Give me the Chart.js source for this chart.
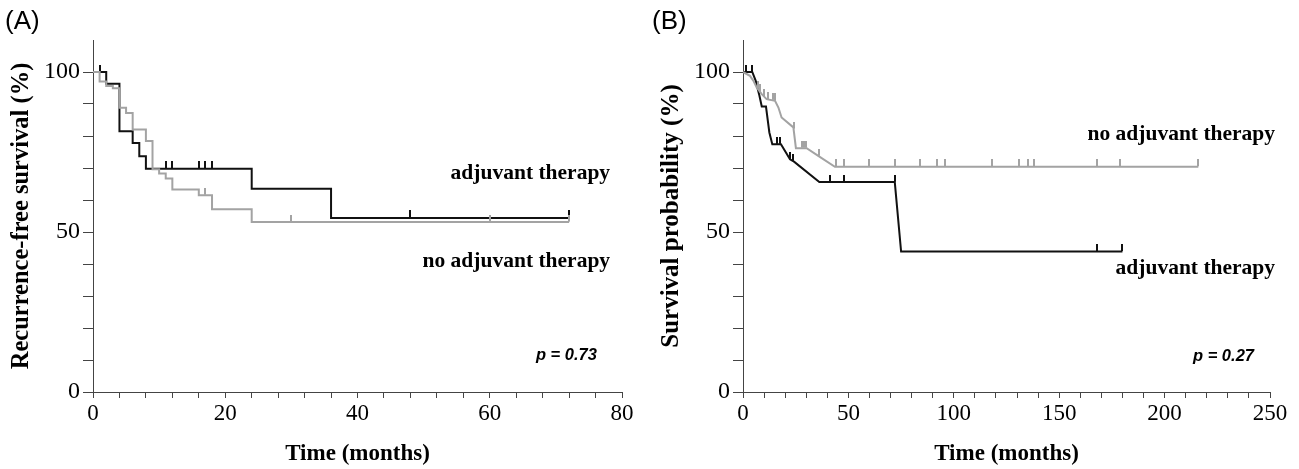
<!DOCTYPE html>
<html>
<head>
<meta charset="utf-8">
<script src="https://cdn.jsdelivr.net/npm/chart.js@4.4.1/dist/chart.umd.min.js"></script>
<style>
  html, body { margin: 0; padding: 0; background: #fff; }
  #wrap { position: relative; width: 1299px; height: 469px; }
  .panel { position: absolute; top: 0; height: 469px; }
  #panelA { left: 0; width: 650px; }
  #panelB { left: 650px; width: 649px; }
</style>
</head>
<body>
<div id="wrap">
  <div class="panel" id="panelA"><canvas id="chartA"></canvas></div>
  <div class="panel" id="panelB"><canvas id="chartB"></canvas></div>
</div>
<script>
// --- Datos ---

// (A) Supervivencia libre de recurrencia (curvas escalonadas)
const aAdjTime = [0, 2, 4, 6, 7, 8, 24, 36, 72];
const aAdjSurv = [100, 96.3, 81.5, 77.8, 73.7, 69.8, 63.5, 54.4, 54.4];
const aAdjCensor = [1, 11, 12, 16, 17, 18, 48, 72];

const aNoTime = [0, 1, 2, 3, 4, 5, 6, 8, 9, 10, 11, 12, 16, 18, 24, 72];
const aNoSurv = [100, 97.0, 95.6, 94.9, 88.8, 87.2, 82.0, 78.4, 69.6, 68.3, 66.7, 63.3, 61.5, 57.1, 53.1, 53.1];
const aNoCensor = [17, 30, 60, 72];

// (B) Probabilidad de supervivencia (polilíneas)
const bAdjTime = [0, 4.4, 6, 7.8, 8.9, 10.9, 12.5, 13.9, 18, 22.3, 24.2, 36.2, 72, 75, 180];
const bAdjSurv = [100, 100, 97.3, 92.6, 89.2, 89.2, 81.1, 77.4, 77.4, 72.7, 72.0, 65.6, 65.6, 43.9, 43.9];
const bAdjCensor = [1.6, 4.3, 16.3, 17.6, 22.3, 23.9, 41.3, 47.9, 72, 168, 180];

const bNoTime = [0, 3.3, 4.9, 6.5, 8.9, 11.2, 15.2, 16.8, 18.3, 23.9, 25.1, 30.2, 35.7, 43.6, 216];
const bNoSurv = [100, 98.8, 97.3, 95.2, 93.1, 91.5, 91.0, 88.9, 85.8, 82.7, 76.2, 76.2, 73.8, 70.4, 70.4];
const bNoCensor = [7, 8, 10, 12, 14, 15, 24, 28, 29, 30, 36, 44, 48, 60, 72, 84, 92, 96, 118, 131, 135, 138, 168, 179, 216];

// Ejes
const yTickLabels = [0, 50, 100];
const aXTickLabels = [0, 20, 40, 60, 80];
const bXTickLabels = [0, 50, 100, 150, 200, 250];

const BLACK = '#111111';
const GRAY = '#a3a3a3';
const AXIS = '#444444';
const SERIF = "'Liberation Serif', 'Times New Roman', serif";

// Nivel de la curva en el tiempo t (escalonado o lineal)
function levelAt(times, surv, t, stepped) {
  for (let i = times.length - 1; i >= 0; i--) {
    if (times[i] <= t) {
      if (stepped || i === times.length - 1) return surv[i];
      const f = (t - times[i]) / (times[i + 1] - times[i]);
      return surv[i] + f * (surv[i + 1] - surv[i]);
    }
  }
  return surv[0];
}

function toPoints(times, surv) {
  return times.map((t, i) => ({ x: t, y: surv[i] }));
}

function censorPoints(censor, times, surv, stepped) {
  return censor.map(t => ({ x: t, y: levelAt(times, surv, t, stepped) }));
}

// Marca de censura: trazo vertical hacia arriba
function censorMark(color) {
  const c = document.createElement('canvas');
  c.width = 2;
  c.height = 15;
  const g = c.getContext('2d');
  g.fillStyle = color;
  g.fillRect(0, 0, 2, 7);
  return c;
}

// Textos sobre el gráfico (etiquetas de grupos, p, letra del panel)
const textPlugin = {
  id: 'textos',
  afterDraw(chart) {
    const { ctx, scales } = chart;
    const notes = chart.options.plugins.textos.items;
    ctx.save();
    notes.forEach(n => {
      ctx.font = n.font;
      ctx.fillStyle = '#000';
      ctx.textAlign = n.align || 'right';
      ctx.textBaseline = 'middle';
      const x = n.px !== undefined ? n.px : scales.x.getPixelForValue(n.x);
      const y = n.py !== undefined ? n.py : scales.y.getPixelForValue(n.y);
      ctx.fillText(n.text, x, y);
    });
    ctx.restore();
  }
};

function makePanel(id, opts) {
  const lineDs = (label, pts, color, stepped) => ({
    type: 'line', label, data: pts, borderColor: color, borderWidth: 2,
    pointRadius: 0, stepped: stepped ? 'before' : false, tension: 0, fill: false
  });
  const censorDs = (label, pts, color) => ({
    type: 'scatter', label, data: pts, pointStyle: censorMark(color),
    pointRadius: 5, borderWidth: 0, backgroundColor: color
  });

  return new Chart(document.getElementById(id), {
    type: 'line',
    data: {
      datasets: [
        lineDs('no adjuvant therapy', toPoints(opts.noTime, opts.noSurv), GRAY, opts.stepped),
        censorDs('no adjuvant censored', censorPoints(opts.noCensor, opts.noTime, opts.noSurv, opts.stepped), GRAY),
        lineDs('adjuvant therapy', toPoints(opts.adjTime, opts.adjSurv), BLACK, opts.stepped),
        censorDs('adjuvant censored', censorPoints(opts.adjCensor, opts.adjTime, opts.adjSurv, opts.stepped), BLACK)
      ]
    },
    options: {
      responsive: true,
      maintainAspectRatio: false,
      animation: false,
      layout: { padding: { left: 0, right: opts.padRight, top: 40, bottom: 0 } },
      plugins: {
        legend: { display: false },
        tooltip: { enabled: false },
        textos: { items: opts.notes }
      },
      scales: {
        x: {
          type: 'linear', min: 0, max: opts.xMax,
          afterFit: s => { s.height = 77; },
          afterBuildTicks: s => {
            s.ticks = [];
            for (let v = 0; v <= opts.xMax; v += opts.xStep) s.ticks.push({ value: v });
          },
          ticks: {
            autoSkip: false, maxRotation: 0, padding: 2, color: '#000',
            font: { family: SERIF, size: 23 },
            callback: v => opts.xLabels.includes(v) ? v : ''
          },
          grid: { drawOnChartArea: false, drawTicks: true, tickLength: 6, color: AXIS, tickColor: AXIS },
          border: { color: AXIS, width: 1 },
          title: {
            display: true, text: 'Time (months)', color: '#000',
            font: { family: SERIF, size: 23, weight: 'bold', lineHeight: 1.2 },
            padding: { top: 0, bottom: 1 }
          }
        },
        y: {
          type: 'linear', min: 0, max: 110,
          afterFit: s => { s.width = 93; },
          afterBuildTicks: s => {
            s.ticks = [];
            for (let v = 0; v <= 110; v += 10) s.ticks.push({ value: v });
          },
          ticks: {
            autoSkip: false, padding: 3, color: '#000',
            font: { family: SERIF, size: 24 },
            callback: v => yTickLabels.includes(v) ? v : ''
          },
          grid: {
            drawOnChartArea: false, drawTicks: true, tickLength: 10, color: AXIS,
            tickColor: c => (c.tick && c.tick.value === 110) ? 'rgba(0,0,0,0)' : AXIS
          },
          border: { color: AXIS, width: 1 },
          title: {
            display: true, text: opts.yTitle, color: '#000',
            font: { family: SERIF, size: opts.yTitleSize, weight: 'bold', lineHeight: 1.2 },
            padding: { top: 7, bottom: 0 }
          }
        }
      }
    },
    plugins: [textPlugin]
  });
}

const boldSerif = "bold 21.5px " + SERIF;
const pFont = "italic bold 16.5px 'Liberation Sans', Arial, sans-serif";
const letterFont = "26px 'Liberation Sans', Arial, sans-serif";

makePanel('chartA', {
  stepped: true, xMax: 80, xStep: 4, xLabels: aXTickLabels, padRight: 28,
  yTitle: 'Recurrence-free survival (%)', yTitleSize: 24.5,
  adjTime: aAdjTime, adjSurv: aAdjSurv, adjCensor: aAdjCensor,
  noTime: aNoTime, noSurv: aNoSurv, noCensor: aNoCensor,
  notes: [
    { text: '(A)', font: letterFont, align: 'left', px: 5, py: 22 },
    { text: 'adjuvant therapy', font: boldSerif, x: 78.2, y: 68.3 },
    { text: 'no adjuvant therapy', font: boldSerif, x: 78.2, y: 40.8 },
    { text: 'p = 0.73', font: pFont, x: 76.2, y: 11.3 }
  ]
});

makePanel('chartB', {
  stepped: false, xMax: 250, xStep: 10, xLabels: bXTickLabels, padRight: 29,
  yTitle: 'Survival probability (%)', yTitleSize: 25,
  adjTime: bAdjTime, adjSurv: bAdjSurv, adjCensor: bAdjCensor,
  noTime: bNoTime, noSurv: bNoSurv, noCensor: bNoCensor,
  notes: [
    { text: '(B)', font: letterFont, align: 'left', px: 2, py: 22 },
    { text: 'no adjuvant therapy', font: boldSerif, x: 252.4, y: 80.6 },
    { text: 'adjuvant therapy', font: boldSerif, x: 252.4, y: 38.6 },
    { text: 'p = 0.27', font: pFont, x: 242.4, y: 11 }
  ]
});
</script>
</body>
</html>
